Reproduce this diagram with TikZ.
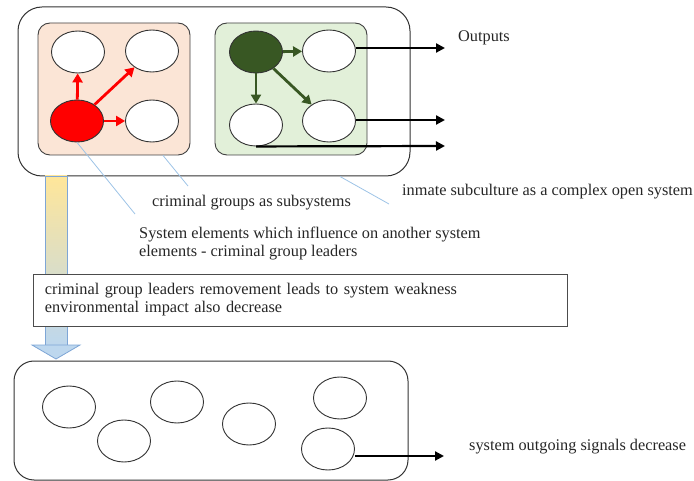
\documentclass[tikz,border=0pt]{standalone}
\usepackage{fontspec}
\setmainfont{Liberation Serif}
\usetikzlibrary{arrows.meta,shapes.geometric}

\definecolor{peach}{HTML}{FBE5D6}
\definecolor{palegreen}{HTML}{E2F0D9}
\definecolor{leadgreen}{HTML}{385723}
\definecolor{callblue}{HTML}{9DC3E6}
\definecolor{shaftyellow}{HTML}{FFE699}
\definecolor{shaftblue}{HTML}{BDD7EE}
\definecolor{shaftedge}{HTML}{7EA6D6}

\begin{document}
\begin{tikzpicture}
    [
    x=1pt,y=-1pt,
    font=\fontsize{16.3}{18}\selectfont,
    element/.style={ellipse,draw=black!80,line width=0.9pt,fill=white,minimum width=53pt,minimum height=42pt,inner sep=0pt},
    group/.style={rectangle,rounded corners=12pt,draw=black!75,line width=0.9pt,minimum width=152pt,minimum height=132pt},
    system/.style={rectangle,rounded corners=24pt,draw=black!80,line width=1pt},
    redlink/.style={-{Triangle[length=9pt,width=10pt]},red,line width=2.8pt},
    greenlink/.style={-{Triangle[length=9pt,width=10pt]},leadgreen,line width=2.8pt},
    output/.style={-{Triangle[length=9pt,width=9pt]},black,line width=2.2pt},
    callout/.style={callblue,line width=0.8pt},
    label/.style={anchor=west,inner sep=0pt,text=black!85}
    ]
\useasboundingbox (0,0) rectangle (694,481);
% whole system and its groups
\node[system,minimum width=392pt,minimum height=169pt] (sys) at (214,91.5) {};
\node[group,fill=peach] (redgrp) at (114,89) {};
\node[group,fill=palegreen] (greengrp) at (291,89) {};
% criminal group
\node[element] (r1) at (78,52) {};
\node[element] (r2) at (152,51) {};
\node[element,fill=red] (r3) at (77,121) {};
\node[element] (r4) at (152,121) {};
\draw[redlink] (r3) -- (r1);
\draw[redlink] (r3) -- (r2);
\draw[redlink] (r3) -- (r4);
% second group
\node[element,fill=leadgreen] (g1) at (256,52) {};
\node[element] (g2) at (329,51) {};
\node[element] (g3) at (256,125) {};
\node[element] (g4) at (329,121) {};
\draw[greenlink] (g1) -- (g2);
\draw[greenlink] (g1) -- (g3);
\draw[greenlink] (g1) -- (g4);
% outputs
\coordinate (o1) at (445,48);
\coordinate (o2) at (445,120);
\coordinate (o3) at (445,146);
\draw[output] (g2.east |- o1) -- (o1);
\draw[output] (g4.east |- o2) -- (o2);
\draw[output] (g3.south) -- (o3);
\node[label] (outlbl) at (458,38) {Outputs};
% labels
\node[label] (lblgroups) at (152,203) {criminal groups as subsystems};
\node[label] (lblsys) at (402,192) {inmate subculture as a complex open system};
\node[label,anchor=north west,align=left] (lblleaders) at (139,227)
  {System elements which influence on another system\\elements - criminal group leaders};
\coordinate (c1) at (135,214);
\coordinate (c2) at (188,186);
\coordinate (c3) at (389,204);
\draw[callout] (r3.south) -- (c1);
\draw[callout] ([xshift=49pt]redgrp.south) -- (c2);
\draw[callout] ([xshift=126pt]sys.south) -- (c3);
% transition arrow
\shade[top color=shaftyellow,bottom color=shaftblue,draw=shaftedge,line width=0.6pt] (45,176) rectangle (67,346);
\filldraw[fill=shaftblue,draw=shaftedge,line width=0.8pt] (32,345) -- (80,345) -- (56,359) -- cycle;
\node[draw=black!70,line width=0.9pt,fill=white,minimum width=534pt,minimum height=52pt,
  text width=510pt,align=left,text=black!85] (impact) at (300,300)
  {criminal group leaders removement leads to system weakness\\environmental impact also decrease};
% weakened system
\node[system,rounded corners=20pt,minimum width=394pt,minimum height=119pt] (weak) at (211,420.5) {};
\node[element] (b1) at (69,407) {};
\node[element] (b2) at (124,441) {};
\node[element] (b3) at (177,402) {};
\node[element] (b4) at (249,424) {};
\node[element] (b5) at (340,398) {};
\node[element] (b6) at (328,449) {};
\coordinate (o4) at (444,456);
\draw[output] (b6.east |- o4) -- (o4);
\node[label] (weaklbl) at (469,447) {system outgoing signals decrease};
\end{tikzpicture}
\end{document}
